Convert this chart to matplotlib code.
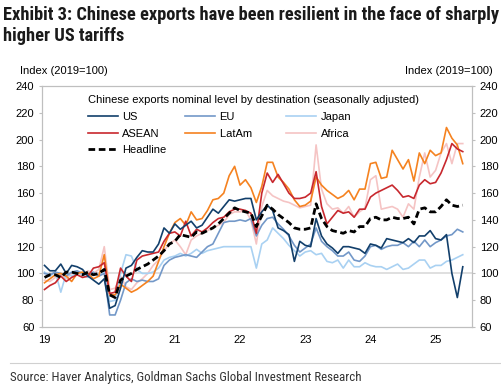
import numpy as np
import matplotlib
matplotlib.use("Agg")
import matplotlib.pyplot as plt
from matplotlib import font_manager

# monthly index levels, Jan 2019 .. Jun 2025 (2019=100)
us = [106, 102, 102, 107, 100, 106, 105, 103, 98, 95, 92, 96,
      74, 76, 89, 104, 106, 112, 117, 116, 116, 122, 134, 130,
      137, 133, 136, 139, 134, 136, 142, 148, 145, 150, 155, 154,
      155, 156, 156, 140, 146, 151, 147, 134, 132, 129, 109, 124,
      121, 120, 141, 128, 122, 119, 115, 120, 120, 119, 118, 115,
      122, 121, 119, 126, 125, 124, 123, 126, 123, 128, 128, 132,
      126, 125, 129, 100, 82, 105]
eu = [100, 99, 101, 100, 98, 101, 102, 100, 99, 101, 98, 100,
      69, 69, 80, 93, 96, 94, 95, 94, 94, 96, 106, 110,
      112, 113, 114, 113, 112, 116, 120, 122, 130, 138, 139, 139,
      140, 139, 141, 128, 136, 141, 142, 137, 133, 128, 121, 116,
      119, 122, 134, 124, 120, 117, 113, 113, 116, 110, 109, 113,
      120, 121, 118, 120, 121, 121, 123, 120, 124, 120, 125, 120,
      123, 125, 128, 129, 133, 131]
japan = [101, 98, 101, 86, 100, 98, 101, 99, 97, 100, 99, 101,
         79, 80, 100, 114, 113, 103, 100, 100, 101, 104, 110, 112,
         113, 115, 113, 115, 118, 115, 117, 118, 119, 120, 120, 120,
         120, 120, 120, 104, 122, 125, 134, 130, 126, 121, 117, 113,
         116, 117, 114, 115, 109, 108, 110, 104, 110, 105, 105, 108,
         106, 105, 105, 103, 105, 107, 103, 104, 107, 110, 110, 104,
         106, 106, 109, 110, 112, 114]
asean = [88, 91, 93, 98, 94, 97, 99, 97, 98, 104, 105, 108,
         85, 86, 104, 98, 94, 110, 113, 114, 115, 116, 124, 130,
         131, 128, 139, 128, 133, 131, 134, 138, 141, 142, 146, 148,
         148, 147, 145, 130, 160, 175, 168, 174, 167, 160, 156, 156,
         157, 160, 176, 150, 137, 142, 147, 145, 146, 142, 148, 148,
         157, 160, 162, 164, 166, 162, 157, 158, 156, 166, 170, 167,
         168, 175, 185, 197, 193, 191]
latam = [93, 96, 99, 100, 98, 94, 100, 101, 100, 96, 98, 114,
         84, 84, 92, 89, 86, 88, 91, 94, 98, 109, 120, 130,
         138, 141, 136, 146, 140, 141, 147, 155, 156, 160, 173, 180,
         166, 170, 164, 153, 165, 183, 183, 172, 168, 163, 155, 150,
         151, 154, 172, 166, 162, 159, 156, 158, 162, 155, 163, 163,
         182, 183, 171, 172, 192, 185, 178, 185, 169, 190, 182, 192,
         188, 190, 209, 201, 196, 182]
africa = [95, 94, 97, 99, 96, 100, 101, 98, 102, 100, 103, 120,
          88, 89, 98, 90, 88, 93, 96, 100, 106, 110, 117, 122,
          125, 120, 114, 125, 128, 130, 132, 134, 136, 138, 144, 146,
          146, 147, 140, 122, 150, 162, 158, 156, 154, 153, 151, 149,
          150, 151, 196, 163, 152, 148, 149, 145, 150, 142, 146, 149,
          170, 173, 148, 149, 150, 148, 142, 152, 148, 172, 190, 172,
          177, 190, 197, 182, 197, 197]
headline = [97, 99, 99, 97, 101, 101, 100, 99, 101, 99, 100, 103,
            84, 82, 95, 98, 100, 103, 105, 107, 110, 113, 117, 122,
            124, 129, 128, 127, 131, 130, 132, 134, 137, 141, 145, 149,
            147, 146, 145, 135, 143, 151, 148, 144, 141, 138, 134, 133,
            133, 134, 152, 141, 135, 132, 131, 130, 132, 131, 135, 135,
            141, 142, 140, 140, 142, 141, 141, 142, 137, 148, 149, 146,
            146, 150, 155, 151, 150, 151]

year_labels = ["19", "20", "21", "22", "23", "24", "25"]
y_ticks = [60, 80, 100, 120, 140, 160, 180, 200, 220, 240]

months = np.arange(len(headline))

# pick a narrow face for title/source if one is installed
installed = {f.name for f in font_manager.fontManager.ttflist}
narrow = [f for f in ["Liberation Sans Narrow", "DejaVu Sans Condensed", "Roboto Condensed",
                      "Open Sans Condensed", "Roboto"] if f in installed] or ["DejaVu Sans"]
narrow_name = narrow[0]
title_size = 13.2 if narrow_name in ("Liberation Sans Narrow", "Roboto Condensed") else 11.2
source_size = 9.3 if narrow_name in ("Liberation Sans Narrow", "Roboto Condensed") else 8.2

plt.rcParams["font.family"] = ["Liberation Sans", "DejaVu Sans"]
plt.rcParams["font.size"] = 8

fig = plt.figure(figsize=(5.01, 3.92), dpi=100)
ax = fig.add_axes([42 / 501, 1 - 327 / 392, 430 / 501, 241 / 392])

grey = "#bfbfbf"
ax.axhline(100, color="#dcdcdc", lw=1.3, zorder=1)

ax.plot(months, africa, color="#f5c4c4", lw=1.2, label="Africa")
ax.plot(months, japan, color="#a9d1f2", lw=1.2, label="Japan")
ax.plot(months, eu, color="#7398c8", lw=1.2, label="EU")
ax.plot(months, latam, color="#f58220", lw=1.2, label="LatAm")
ax.plot(months, asean, color="#c8282e", lw=1.2, label="ASEAN")
ax.plot(months, us, color="#123f6b", lw=1.2, label="US")
ax.plot(months, headline, color="black", lw=2.0, ls=(0, (2.4, 1.3)), label="Headline")

ax.set_xlim(-0.46, 78.7)
ax.set_ylim(60, 240)
ax.set_yticks(y_ticks)
ax.set_xticks(np.arange(len(year_labels)) * 12)
ax.set_xticklabels(year_labels)
ax.tick_params(axis="x", length=0, pad=6, labelsize=8)
ax.tick_params(axis="y", length=2.5, pad=3, color=grey, labelsize=8)
for s in ax.spines.values():
    s.set_color(grey)
    s.set_linewidth(0.8)

ax2 = ax.twinx()
ax2.set_ylim(60, 240)
ax2.set_yticks(y_ticks)
ax2.tick_params(axis="y", length=2.5, pad=3, color=grey, labelsize=8)
for s in ax2.spines.values():
    s.set_color(grey)
    s.set_linewidth(0.8)

handles, labels = ax.get_legend_handles_labels()
lookup = dict(zip(labels, handles))
order = ["US", "ASEAN", "Headline", "EU", "LatAm", "Japan", "Africa"]
names = ["US", "ASEAN", "Headline", "EU", "LatAm     ", "Japan", "Africa"]
leg = ax.legend([lookup[k] for k in order], names, ncol=3,
                title="Chinese exports nominal level by destination (seasonally adjusted)",
                title_fontsize=8, fontsize=8, frameon=False, alignment="left",
                loc="upper left", bbox_to_anchor=(0.093, 0.985), borderpad=0,
                handlelength=2.7, handletextpad=0.4, columnspacing=1.7,
                labelspacing=0.6)

fig.text(20 / 501, 1 - 71 / 392, "Index (2019=100)", fontsize=8, va="center", ha="left")
fig.text(493 / 501, 1 - 71 / 392, "Index (2019=100)", fontsize=8, va="center", ha="right")

fig.text(3 / 501, 1 - 20 / 392, "Exhibit 3: Chinese exports have been resilient in the face of sharply",
         family=narrow, fontweight="bold", fontsize=title_size, color="#1a1a1a", va="baseline")
fig.text(3 / 501, 1 - 41 / 392, "higher US tariffs",
         family=narrow, fontweight="bold", fontsize=title_size, color="#1a1a1a", va="baseline")

fig.add_artist(plt.Line2D([10 / 501, 1], [1 - 363 / 392] * 2, color="#d0d0d0", lw=0.8))
fig.text(10 / 501, 1 - 378 / 392, "Source: Haver Analytics, Goldman Sachs Global Investment Research",
         family=narrow, fontsize=source_size, color="#333333", va="center")

fig.savefig("out.png", dpi=100)
